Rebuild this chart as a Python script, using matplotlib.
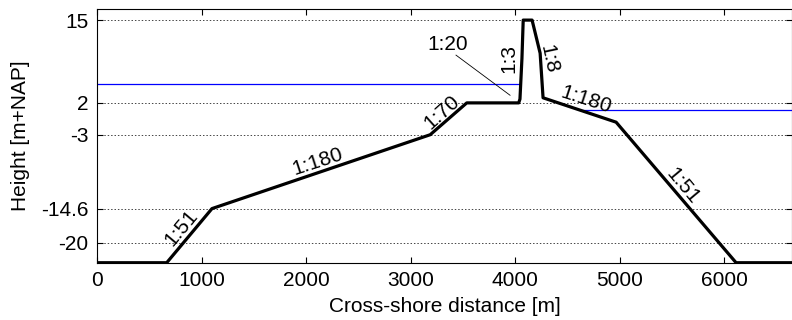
import matplotlib
matplotlib.use("Agg")
import matplotlib.pyplot as plt

# cross-shore profile (m, m+NAP)
dist = [0, 667, 1100, 3188, 3538, 4035, 4047, 4066, 4078, 4163, 4240, 4268, 4967, 6115, 6650]
height = [-23.1, -23.1, -14.6, -3, 2, 2, 2.6, 9.0, 15, 15, 9.8, 2.8, -1.03, -23.1, -23.1]

# water levels either side of the dam
wl_left_x = [0, 4050]
wl_left = [5.0, 5.0]
wl_right_x = [4620, 6650]
wl_right = [0.9, 0.9]

yticks = [-20, -14.6, -3, 2, 15]
ytick_labels = ['-20', '-14.6', '-3', '2', '15']
xticks = [0, 1000, 2000, 3000, 4000, 5000, 6000]

# slope labels: text, x, y, rotation
slopes = [
    ('1:51', 804, -17.7, 50),
    ('1:180', 2115, -7.3, 18),
    ('1:70', 3301, 0.5, 42),
    ('1:3', 3943, 9.0, 90),
    ('1:8', 4325, 8.9, -78),
    ('1:180', 4679, 2.4, -18),
    ('1:51', 5608, -11.1, -50),
]

plt.rcParams['font.family'] = ['Liberation Sans', 'DejaVu Sans']
fs = 15
fig = plt.figure(figsize=(7.92, 3.2), dpi=100)
ax = fig.add_axes([0.1225, 0.179, 0.8775, 0.792])

ax.plot(wl_left_x, wl_left, color='#0000ff', lw=0.9, zorder=2)
ax.plot(wl_right_x, wl_right, color='#0000ff', lw=0.9, zorder=2)
ax.plot(dist, height, color='black', lw=2.3, solid_joinstyle='round',
        solid_capstyle='butt', zorder=3)

for txt, x, y, rot in slopes:
    ax.text(x, y, txt, fontsize=fs, rotation=rot, ha='center', va='center',
            rotation_mode='anchor', zorder=4)

ax.text(3359, 11.1, '1:20', fontsize=fs, ha='center', va='center', zorder=4)
ax.plot([3435, 3952], [9.5, 3.2], color='black', lw=0.6, zorder=4)

ax.set_xlim(0, 6650)
ax.set_ylim(-23.1, 16.7)
ax.set_xticks(xticks)
ax.set_xticklabels([str(v) for v in xticks])
ax.set_yticks(yticks)
ax.set_yticklabels(ytick_labels)
ax.yaxis.grid(True, linestyle=(0, (1.5, 2)), color='#444444', lw=0.7)
ax.tick_params(direction='in', length=4, width=0.8, labelsize=fs,
               top=True, right=True, pad=6)
for s in ax.spines.values():
    s.set_linewidth(0.8)

ax.set_xlabel('Cross-shore distance [m]', fontsize=fs, labelpad=5)
ax.set_ylabel('Height [m+NAP]', fontsize=fs)
ax.yaxis.set_label_coords(-0.097, 0.5)

fig.savefig('out.png', dpi=100)
